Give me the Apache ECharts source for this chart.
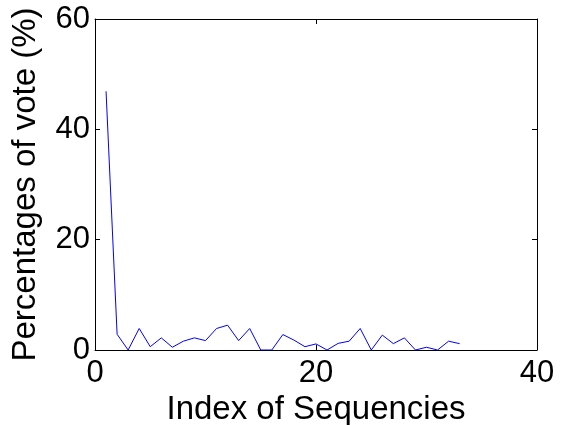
<!DOCTYPE html>
<html>
<head>
<meta charset="utf-8">
<script src="https://cdn.jsdelivr.net/npm/echarts@6/dist/echarts.min.js"></script>
<style>
  html, body { margin: 0; padding: 0; background: #fff; }
  #myChart { width: 565px; height: 425px; }
</style>
</head>
<body>
<div id="myChart"></div>
<script>
// index of sequence (1..33) and vote share
const seqIndex = [1, 2, 3, 4, 5, 6, 7, 8, 9, 10, 11, 12, 13, 14, 15, 16, 17,
  18, 19, 20, 21, 22, 23, 24, 25, 26, 27, 28, 29, 30, 31, 32, 33]
const votePct = [46.9, 2.85, 0, 3.9, 0.6, 2.2, 0.5, 1.6, 2.2, 1.7, 3.9, 4.5, 1.7,
  3.9, 0, 0, 2.8, 1.8, 0.6, 1.1, 0, 1.2, 1.6, 3.9, 0, 2.7, 1.15, 2.2, 0, 0.5, 0, 1.6, 1.15]
const xTicks = [0, 20, 40]
const yTicks = [0, 20, 40, 60]

const font = 'Liberation Sans, Arial, Helvetica, sans-serif'
const black = '#000'

const myChart = echarts.init(document.getElementById('myChart'))

// every side of the box is its own axis so the ticks show on all four
function frameAxis(pos, ticks, extra) {
  return Object.assign({
    type: 'value',
    position: pos,
    min: ticks[0],
    max: ticks[ticks.length - 1],
    interval: ticks[1] - ticks[0],
    axisLine: { show: true, onZero: false, lineStyle: { color: black, width: 1 } },
    axisTick: { show: true, inside: true, length: 5, lineStyle: { color: black } },
    splitLine: { show: false },
    axisLabel: { show: false }
  }, extra || {})
}

myChart.setOption({
  animation: false,
  backgroundColor: '#fff',
  grid: { left: 95, right: 28, top: 19, bottom: 75, outerBoundsMode: 'none', containLabel: false },
  xAxis: [
    frameAxis('bottom', xTicks, {
      name: 'Index of Sequencies',
      nameLocation: 'middle',
      nameGap: 35,
      nameTextStyle: { fontFamily: font, fontSize: 33, color: black },
      axisLabel: { show: true, margin: 8, fontFamily: font, fontSize: 31, color: black }
    }),
    frameAxis('top', xTicks)
  ],
  yAxis: [
    frameAxis('left', yTicks, {
      name: 'Percentages of vote (%)',
      nameLocation: 'middle',
      nameGap: 53,
      nameTextStyle: { fontFamily: font, fontSize: 33, color: black },
      axisLabel: { show: true, margin: 5, fontFamily: font, fontSize: 31, color: black }
    }),
    frameAxis('right', yTicks)
  ],
  series: [
    {
      type: 'line',
      data: seqIndex.map((x, i) => [x, votePct[i]]),
      showSymbol: false,
      symbol: 'none',
      lineStyle: { color: '#0000ff', width: 1 },
      xAxisIndex: 0,
      yAxisIndex: 0
    }
  ]
})
</script>
</body>
</html>
